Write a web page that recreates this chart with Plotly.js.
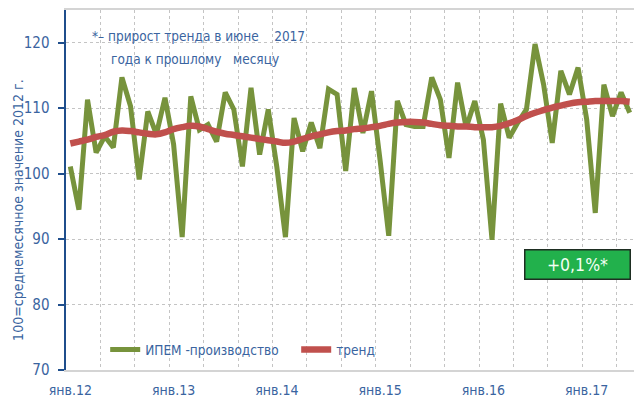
<!DOCTYPE html>
<html>
<head>
<meta charset="utf-8">
<script src="https://cdn.plot.ly/plotly-3.0.1.min.js"></script>
<style>html,body{margin:0;padding:0;background:#fff;}#chart{width:634px;height:402px;}</style>
</head>
<body>
<div id="chart"></div>
<script>
// Months Jan 2012 .. Jun 2017 (index 0..65)
const monthIndex = Array.from({length: 66}, (_, i) => i);
const yearTickIdx = [0, 12, 24, 36, 48, 60];
const yearTickText = ['янв.12', 'янв.13', 'янв.14', 'янв.15', 'янв.16', 'янв.17'];

const ipemProduction = [
  101.1, 94.5, 111.3, 103.2, 105.7, 104.0, 114.7, 110.3, 99.1, 109.5, 106.0, 111.6,
  104.5, 90.3, 111.8, 106.7, 107.5, 104.9, 112.4, 109.8, 101.1, 113.1, 102.9, 109.8,
  101.0, 90.3, 108.5, 103.4, 107.8, 103.9, 112.9, 112.1, 100.4, 113.1, 106.2, 112.6,
  102.0, 90.5, 111.1, 107.5, 107.2, 107.2, 114.7, 111.3, 102.4, 113.9, 107.0, 111.1,
  105.2, 89.9, 110.7, 105.5, 107.8, 109.8, 119.8, 113.6, 104.7, 115.7, 112.1, 116.2,
  108.3, 94.0, 113.6, 108.8, 112.4, 109.3
];
const trend = [
  104.6, 104.9, 105.2, 105.6, 105.9, 106.4, 106.6, 106.5, 106.3, 106.1, 106.0, 106.3,
  106.8, 107.1, 107.3, 107.2, 106.8, 106.4, 106.1, 105.9, 105.7, 105.5, 105.3, 105.1,
  104.9, 104.7, 104.9, 105.3, 105.7, 106.0, 106.3, 106.5, 106.6, 106.8, 106.9, 107.1,
  107.3, 107.6, 107.8, 107.9, 107.9, 107.8, 107.6, 107.4, 107.3, 107.2, 107.2, 107.1,
  107.1, 107.1, 107.3, 107.7, 108.2, 108.8, 109.3, 109.7, 110.1, 110.4, 110.7, 110.9,
  111.0, 111.1, 111.1, 111.1, 111.1, 111.0
];
const seriesNames = ['ИПЕМ -производство', 'тренд'];
const boxLabel = '+0,1%*';

const gridTickIdx = [];
for (let v = 3.5; v < 65.5; v += 4) gridTickIdx.push(v);

const FONT = '"DejaVu Sans Condensed", "Liberation Sans Narrow", "Liberation Sans", sans-serif';
const BLUE = '#1f4e8c';
const TXT = '#3a64a0';
const xr = [-0.5, 65.5];

const traces = [
  {x: monthIndex, y: ipemProduction, name: seriesNames[0], type: 'scatter', mode: 'lines',
   line: {color: '#77933c', width: 5}},
  {x: monthIndex, y: trend, name: seriesNames[1], type: 'scatter', mode: 'lines',
   line: {color: '#c0504d', width: 6.5, shape: 'spline'}}
];

const pos100 = (100 - 70) / (125 - 70);

const layout = {
  width: 634, height: 402,
  margin: {l: 66, r: 0, t: 10, b: 32},
  paper_bgcolor: '#fff', plot_bgcolor: '#fff',
  font: {family: FONT, color: TXT, size: 14},
  showlegend: true,
  legend: {orientation: 'h', x: 0.069, y: 0.056, xanchor: 'left', yanchor: 'middle',
           bgcolor: 'rgba(0,0,0,0)', font: {family: FONT, size: 13.5, color: TXT},
           entrywidth: 146, entrywidthmode: 'pixels', traceorder: 'normal'},
  xaxis: {range: xr, tickmode: 'array', tickvals: yearTickIdx, ticktext: yearTickText,
          showgrid: false, zeroline: false, ticks: '', showline: true, linecolor: '#d4d4d4',
          linewidth: 2, mirror: true, tickfont: {size: 14, color: TXT}, ticklabelstandoff: 6,
          minor: {tickmode: 'array', tickvals: gridTickIdx, showgrid: true,
                  gridcolor: '#c4c4c4', griddash: 'dot', gridwidth: 1, ticks: ''}},
  xaxis2: {range: xr, overlaying: 'x', anchor: 'free', position: pos100, side: 'bottom',
           showline: true, linecolor: BLUE, linewidth: 2.5, showgrid: false, zeroline: false,
           tickmode: 'array', tickvals: gridTickIdx, ticks: 'outside', ticklen: 4,
           tickwidth: 1.5, tickcolor: BLUE, showticklabels: false},
  xaxis3: {range: xr, overlaying: 'x', anchor: 'free', position: pos100, side: 'top',
           showline: false, showgrid: false, zeroline: false,
           tickmode: 'array', tickvals: gridTickIdx, ticks: 'outside', ticklen: 4,
           tickwidth: 1.5, tickcolor: BLUE, showticklabels: false},
  yaxis: {range: [70, 125], tickmode: 'array', tickvals: [70, 80, 90, 100, 110, 120],
          showgrid: true, gridcolor: '#c4c4c4', griddash: 'dot', gridwidth: 1,
          zeroline: false, showline: true, linecolor: BLUE, linewidth: 2.5,
          ticks: 'outside', ticklen: 6, tickwidth: 2, tickcolor: BLUE,
          tickfont: {size: 15, color: TXT}, ticklabelstandoff: 5},
  annotations: [
    {xref: 'paper', yref: 'paper', x: -0.085, y: 0.444, xanchor: 'center', yanchor: 'middle',
     textangle: -90,
     text: '100=среднемесячное значение 2012 г.', showarrow: false,
     font: {size: 14, color: TXT}},
    {xref: 'paper', yref: 'paper', x: 0.234, y: 0.929, xanchor: 'center', yanchor: 'middle',
     text: '*– прирост тренда в июне\u00a0\u00a0\u00a0\u00a02017', showarrow: false,
     font: {size: 13.5, color: TXT}},
    {xref: 'paper', yref: 'paper', x: 0.227, y: 0.865, xanchor: 'center', yanchor: 'middle',
     text: 'года к прошлому\u00a0\u00a0\u00a0месяцу', showarrow: false,
     font: {size: 13.5, color: TXT}},
    {xref: 'paper', yref: 'paper', x: 0.9014, y: 0.2917, xanchor: 'center', yanchor: 'middle',
     text: boxLabel, showarrow: false, width: 102, height: 26,
     bgcolor: '#22b14c', bordercolor: '#1e2e22', borderwidth: 1.5, borderpad: 1,
     font: {size: 17.5, color: '#f4fff4'}}
  ]
};

Plotly.newPlot('chart', traces, layout, {displayModeBar: false, staticPlot: true});
</script>
</body>
</html>
